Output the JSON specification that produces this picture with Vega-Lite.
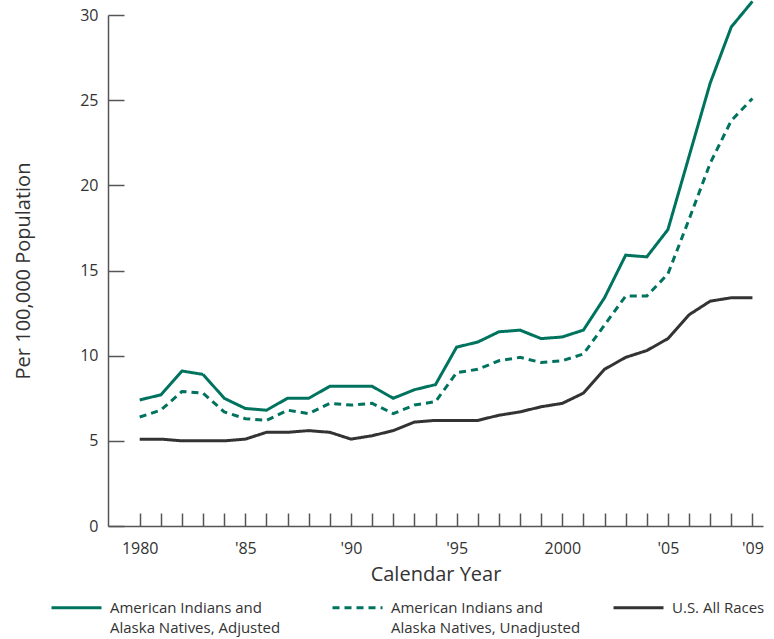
{
  "$schema": "https://vega.github.io/schema/vega-lite/v6.json",
  "width": 655,
  "height": 511,
  "autosize": {"type": "none"},
  "padding": {"left": 108, "top": 15, "right": 11, "bottom": 113},
  "background": "white",
  "config": {
    "view": {"stroke": null},
    "font": "Open Sans",
    "axis": {"labelColor": "#333", "titleColor": "#333", "domainColor": "#555", "tickColor": "#555", "grid": false, "titleFontWeight": "normal", "domainWidth": 1.5, "tickWidth": 1.5}
  },
  "data": {
    "values": [
      {"year": 1980, "s": "American Indians and Alaska Natives, Adjusted", "v": 7.4},
      {"year": 1981, "s": "American Indians and Alaska Natives, Adjusted", "v": 7.7},
      {"year": 1982, "s": "American Indians and Alaska Natives, Adjusted", "v": 9.1},
      {"year": 1983, "s": "American Indians and Alaska Natives, Adjusted", "v": 8.9},
      {"year": 1984, "s": "American Indians and Alaska Natives, Adjusted", "v": 7.5},
      {"year": 1985, "s": "American Indians and Alaska Natives, Adjusted", "v": 6.9},
      {"year": 1986, "s": "American Indians and Alaska Natives, Adjusted", "v": 6.8},
      {"year": 1987, "s": "American Indians and Alaska Natives, Adjusted", "v": 7.5},
      {"year": 1988, "s": "American Indians and Alaska Natives, Adjusted", "v": 7.5},
      {"year": 1989, "s": "American Indians and Alaska Natives, Adjusted", "v": 8.2},
      {"year": 1990, "s": "American Indians and Alaska Natives, Adjusted", "v": 8.2},
      {"year": 1991, "s": "American Indians and Alaska Natives, Adjusted", "v": 8.2},
      {"year": 1992, "s": "American Indians and Alaska Natives, Adjusted", "v": 7.5},
      {"year": 1993, "s": "American Indians and Alaska Natives, Adjusted", "v": 8.0},
      {"year": 1994, "s": "American Indians and Alaska Natives, Adjusted", "v": 8.3},
      {"year": 1995, "s": "American Indians and Alaska Natives, Adjusted", "v": 10.5},
      {"year": 1996, "s": "American Indians and Alaska Natives, Adjusted", "v": 10.8},
      {"year": 1997, "s": "American Indians and Alaska Natives, Adjusted", "v": 11.4},
      {"year": 1998, "s": "American Indians and Alaska Natives, Adjusted", "v": 11.5},
      {"year": 1999, "s": "American Indians and Alaska Natives, Adjusted", "v": 11.0},
      {"year": 2000, "s": "American Indians and Alaska Natives, Adjusted", "v": 11.1},
      {"year": 2001, "s": "American Indians and Alaska Natives, Adjusted", "v": 11.5},
      {"year": 2002, "s": "American Indians and Alaska Natives, Adjusted", "v": 13.4},
      {"year": 2003, "s": "American Indians and Alaska Natives, Adjusted", "v": 15.9},
      {"year": 2004, "s": "American Indians and Alaska Natives, Adjusted", "v": 15.8},
      {"year": 2005, "s": "American Indians and Alaska Natives, Adjusted", "v": 17.4},
      {"year": 2006, "s": "American Indians and Alaska Natives, Adjusted", "v": 21.7},
      {"year": 2007, "s": "American Indians and Alaska Natives, Adjusted", "v": 26.0},
      {"year": 2008, "s": "American Indians and Alaska Natives, Adjusted", "v": 29.3},
      {"year": 2009, "s": "American Indians and Alaska Natives, Adjusted", "v": 30.8},
      {"year": 1980, "s": "American Indians and Alaska Natives, Unadjusted", "v": 6.4},
      {"year": 1981, "s": "American Indians and Alaska Natives, Unadjusted", "v": 6.8},
      {"year": 1982, "s": "American Indians and Alaska Natives, Unadjusted", "v": 7.9},
      {"year": 1983, "s": "American Indians and Alaska Natives, Unadjusted", "v": 7.8},
      {"year": 1984, "s": "American Indians and Alaska Natives, Unadjusted", "v": 6.7},
      {"year": 1985, "s": "American Indians and Alaska Natives, Unadjusted", "v": 6.3},
      {"year": 1986, "s": "American Indians and Alaska Natives, Unadjusted", "v": 6.2},
      {"year": 1987, "s": "American Indians and Alaska Natives, Unadjusted", "v": 6.8},
      {"year": 1988, "s": "American Indians and Alaska Natives, Unadjusted", "v": 6.6},
      {"year": 1989, "s": "American Indians and Alaska Natives, Unadjusted", "v": 7.2},
      {"year": 1990, "s": "American Indians and Alaska Natives, Unadjusted", "v": 7.1},
      {"year": 1991, "s": "American Indians and Alaska Natives, Unadjusted", "v": 7.2},
      {"year": 1992, "s": "American Indians and Alaska Natives, Unadjusted", "v": 6.6},
      {"year": 1993, "s": "American Indians and Alaska Natives, Unadjusted", "v": 7.1},
      {"year": 1994, "s": "American Indians and Alaska Natives, Unadjusted", "v": 7.3},
      {"year": 1995, "s": "American Indians and Alaska Natives, Unadjusted", "v": 9.0},
      {"year": 1996, "s": "American Indians and Alaska Natives, Unadjusted", "v": 9.2},
      {"year": 1997, "s": "American Indians and Alaska Natives, Unadjusted", "v": 9.7},
      {"year": 1998, "s": "American Indians and Alaska Natives, Unadjusted", "v": 9.9},
      {"year": 1999, "s": "American Indians and Alaska Natives, Unadjusted", "v": 9.6},
      {"year": 2000, "s": "American Indians and Alaska Natives, Unadjusted", "v": 9.7},
      {"year": 2001, "s": "American Indians and Alaska Natives, Unadjusted", "v": 10.1},
      {"year": 2002, "s": "American Indians and Alaska Natives, Unadjusted", "v": 11.8},
      {"year": 2003, "s": "American Indians and Alaska Natives, Unadjusted", "v": 13.5},
      {"year": 2004, "s": "American Indians and Alaska Natives, Unadjusted", "v": 13.5},
      {"year": 2005, "s": "American Indians and Alaska Natives, Unadjusted", "v": 14.8},
      {"year": 2006, "s": "American Indians and Alaska Natives, Unadjusted", "v": 18.0},
      {"year": 2007, "s": "American Indians and Alaska Natives, Unadjusted", "v": 21.3},
      {"year": 2008, "s": "American Indians and Alaska Natives, Unadjusted", "v": 23.8},
      {"year": 2009, "s": "American Indians and Alaska Natives, Unadjusted", "v": 25.1},
      {"year": 1980, "s": "U.S. All Races", "v": 5.1},
      {"year": 1981, "s": "U.S. All Races", "v": 5.1},
      {"year": 1982, "s": "U.S. All Races", "v": 5.0},
      {"year": 1983, "s": "U.S. All Races", "v": 5.0},
      {"year": 1984, "s": "U.S. All Races", "v": 5.0},
      {"year": 1985, "s": "U.S. All Races", "v": 5.1},
      {"year": 1986, "s": "U.S. All Races", "v": 5.5},
      {"year": 1987, "s": "U.S. All Races", "v": 5.5},
      {"year": 1988, "s": "U.S. All Races", "v": 5.6},
      {"year": 1989, "s": "U.S. All Races", "v": 5.5},
      {"year": 1990, "s": "U.S. All Races", "v": 5.1},
      {"year": 1991, "s": "U.S. All Races", "v": 5.3},
      {"year": 1992, "s": "U.S. All Races", "v": 5.6},
      {"year": 1993, "s": "U.S. All Races", "v": 6.1},
      {"year": 1994, "s": "U.S. All Races", "v": 6.2},
      {"year": 1995, "s": "U.S. All Races", "v": 6.2},
      {"year": 1996, "s": "U.S. All Races", "v": 6.2},
      {"year": 1997, "s": "U.S. All Races", "v": 6.5},
      {"year": 1998, "s": "U.S. All Races", "v": 6.7},
      {"year": 1999, "s": "U.S. All Races", "v": 7.0},
      {"year": 2000, "s": "U.S. All Races", "v": 7.2},
      {"year": 2001, "s": "U.S. All Races", "v": 7.8},
      {"year": 2002, "s": "U.S. All Races", "v": 9.2},
      {"year": 2003, "s": "U.S. All Races", "v": 9.9},
      {"year": 2004, "s": "U.S. All Races", "v": 10.3},
      {"year": 2005, "s": "U.S. All Races", "v": 11.0},
      {"year": 2006, "s": "U.S. All Races", "v": 12.4},
      {"year": 2007, "s": "U.S. All Races", "v": 13.2},
      {"year": 2008, "s": "U.S. All Races", "v": 13.4},
      {"year": 2009, "s": "U.S. All Races", "v": 13.4}
    ]
  },
  "mark": {"type": "line", "strokeWidth": 3, "clip": false},
  "encoding": {
    "x": {
      "field": "year", "type": "quantitative",
      "scale": {"domain": [1978.5, 2009.5], "nice": false, "zero": false},
      "axis": {
        "title": "Calendar Year",
        "titleFontSize": 20,
        "titlePadding": 8,
        "labelFontSize": 16,
        "labelPadding": 27,
        "tickSize": -13,
        "values": [1980,1981,1982,1983,1984,1985,1986,1987,1988,1989,1990,1991,1992,1993,1994,1995,1996,1997,1998,1999,2000,2001,2002,2003,2004,2005,2006,2007,2008,2009],
        "labelExpr": "datum.value == 1980 || datum.value == 2000 ? toString(datum.value) : (datum.value % 5 == 0 || datum.value == 2009) ? \"'\" + substring(toString(datum.value), 2, 4) : ''",
        "labelOverlap": false,
        "labelFlush": false
      }
    },
    "y": {
      "field": "v", "type": "quantitative",
      "scale": {"domain": [0, 30], "nice": false},
      "axis": {
        "title": "Per 100,000 Population",
        "titleFontSize": 20,
        "titlePadding": 46,
        "labelFontSize": 16,
        "labelPadding": 26,
        "tickSize": -16,
        "values": [0, 5, 10, 15, 20, 25, 30]
      }
    },
    "color": {
      "field": "s", "type": "nominal",
      "scale": {
        "domain": ["American Indians and Alaska Natives, Adjusted", "American Indians and Alaska Natives, Unadjusted", "U.S. All Races"],
        "range": ["#00735f", "#00735f", "#333333"]
      },
      "legend": {
        "title": null,
        "orient": "none",
        "legendX": -58,
        "legendY": 566,
        "direction": "horizontal",
        "columns": 3,
        "gridAlign": "all",
        "columnPadding": 26,
        "symbolType": "stroke",
        "symbolSize": 2500,
        "symbolStrokeWidth": 3,
        "labelFontSize": 15,
        "labelColor": "#333",
        "labelOffset": 7,
        "labelLimit": 300,
        "labelExpr": "datum.label == 'U.S. All Races' ? [datum.label, ' '] : ['American Indians and', substring(datum.label, 21)]",
        "encode": {"labels": {"update": {"lineHeight": {"value": 20}}}}
      }
    },
    "strokeDash": {
      "field": "s", "type": "nominal",
      "scale": {
        "domain": ["American Indians and Alaska Natives, Adjusted", "American Indians and Alaska Natives, Unadjusted", "U.S. All Races"],
        "range": [[1, 0], [7, 5], [1, 0]]
      },
      "legend": null
    }
  }
}
